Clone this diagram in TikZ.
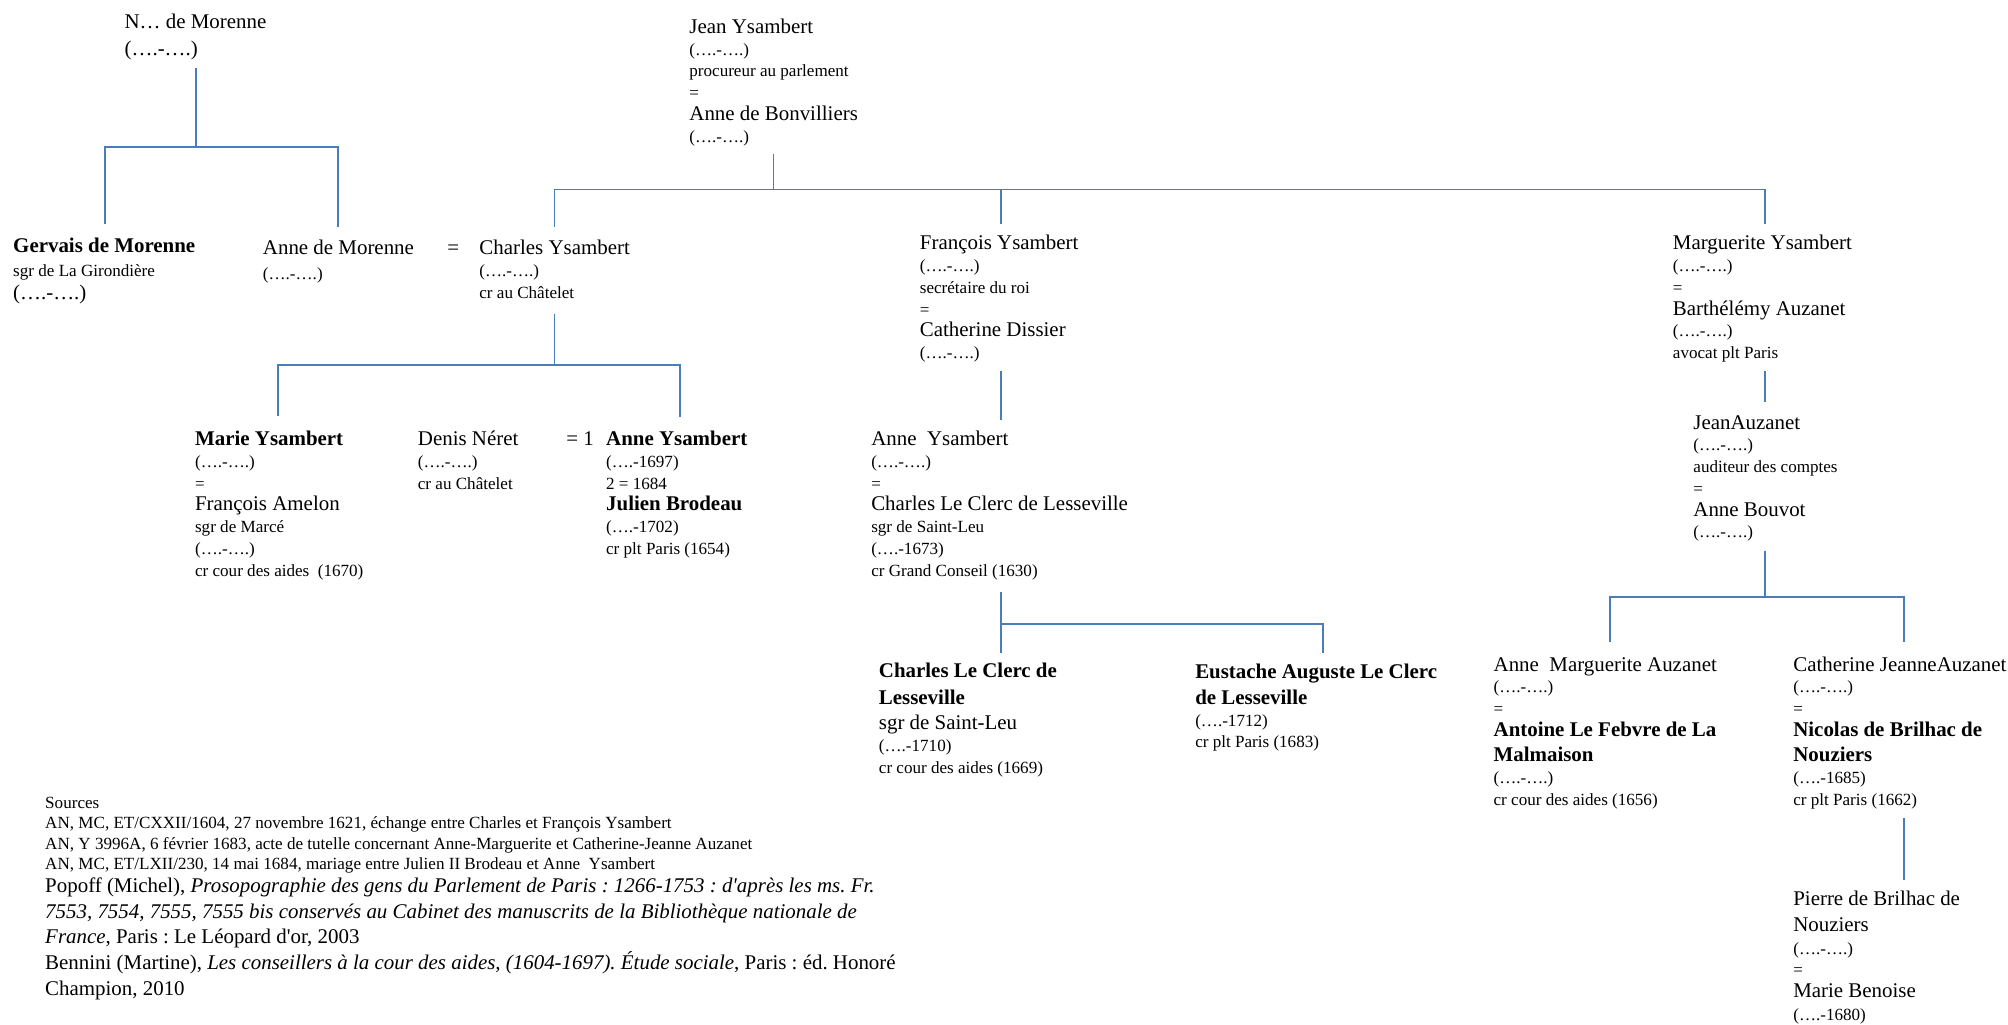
\documentclass[tikz,border=0pt]{standalone}
\usepackage{fontspec}
\setmainfont{Liberation Serif}
\frenchspacing
\newcommand\Lf{\fontsize{9.8pt}{10.2pt}\selectfont}
\newcommand\Sf{\fontsize{8.0pt}{10.2pt}\selectfont}
\newcommand\Bf{\Lf\bfseries}
\newcommand\psty{\Sf\lineskiplimit=-100pt\lineskip=0pt}
\newcommand\dd{(….-….)}
\definecolor{tree}{RGB}{74,126,187}
\begin{document}
\begin{tikzpicture}[x=0.6pt,y=-0.6pt,
  person/.style={anchor=base west,inner sep=0pt,align=left,font=\psty},
  conn/.style={draw=tree,line width=0.9pt}]
\useasboundingbox[fill=white] (0,0) rectangle (1568,800);

% ---------- persons (anchored at the baseline of their last line) ----------
\node[person] (morenne) at (97,43) {\Lf N… de Morenne\\[2.4pt]\Lf \dd};
\node[person] (jean) at (538,111) {\Lf Jean Ysambert\\ \dd\\ procureur au parlement\\ =\\ \Lf Anne de Bonvilliers\\ \dd};

\node[person] (gervais) at (10,234) {\Bf Gervais de Morenne\\[1.2pt] sgr de La Girondière\\[0.6pt] \Lf \dd};
\node[person] (annem) at (205,218) {\Lf Anne de Morenne\\[1.2pt] \dd};
\node[person] (eqa) at (349,199) {\Lf =};
\node[person] (charles) at (374,233) {\Lf Charles Ysambert\\ \dd\\ cr au Châtelet};
\node[person] (francois) at (718,280) {\Lf François Ysambert\\ \dd\\ secrétaire du roi\\ =\\ \Lf Catherine Dissier\\ \dd};
\node[person] (marguerite) at (1306,280) {\Lf Marguerite Ysambert\\ \dd\\ =\\ \Lf Barthélémy Auzanet\\ \dd\\ avocat plt Paris};
\node[person] (jeanauz) at (1322,420) {\Lf JeanAuzanet\\ \dd\\ auditeur des comptes\\ =\\ \Lf Anne Bouvot\\ \dd};

\node[person] (marie) at (152,450) {\Bf Marie Ysambert\\ \dd\\ =\\ \Lf François Amelon\\ sgr de Marcé\\ \dd\\ cr cour des aides\ \ (1670)};
\node[person] (denis) at (326,382) {\Lf Denis Néret\\ \dd\\ cr au Châtelet};
\node[person] (eqb) at (442,348) {\Lf = 1};
\node[person] (anney) at (473,433) {\Bf Anne Ysambert\\ (….-1697)\\ 2 = 1684\\ \Bf Julien Brodeau\\ (….-1702)\\ cr plt Paris (1654)};
\node[person] (annetwo) at (680,450) {\Lf Anne\ \ Ysambert\\ \dd\\ =\\ \Lf Charles Le Clerc de Lesseville\\ sgr de Saint-Leu\\ (….-1673)\\ cr Grand Conseil (1630)};

\node[person] (charlesll) at (686,604) {\Bf Charles Le Clerc de\\[2.4pt] \Bf Lesseville\\[1.8pt] \Lf sgr de Saint-Leu\\ (….-1710)\\ cr cour des aides (1669)};
\node[person] (eustache) at (933,584) {\Bf Eustache Auguste Le Clerc\\[1.8pt] \Bf de Lesseville\\ (….-1712)\\ cr plt Paris (1683)};
\node[person] (annemarg) at (1166,629) {\Lf Anne\ \ Marguerite Auzanet\\ \dd\\ =\\ \Bf Antoine Le Febvre de La\\[1.8pt] \Bf Malmaison\\ \dd\\ cr cour des aides (1656)};
\node[person] (catherine) at (1400,629) {\Lf Catherine JeanneAuzanet\\ \dd\\ =\\ \Bf Nicolas de Brilhac de\\[1.8pt] \Bf Nouziers\\ (….-1685)\\ cr plt Paris (1662)};
\node[person] (pierre) at (1400,797) {\Lf Pierre de Brilhac de\\[1.8pt] \Lf Nouziers\\[0.6pt] \dd\\ =\\ \Lf Marie Benoise\\[0.6pt] (….-1680)};

% ---------- sources ----------
\node[person] (sources) at (35,777) {Sources\\[-0.6pt]
AN, MC, ET/CXXII/1604, 27 novembre 1621, échange entre Charles et François Ysambert\\[-0.6pt]
AN, Y 3996A, 6 février 1683, acte de tutelle concernant Anne-Marguerite et Catherine-Jeanne Auzanet\\[-0.6pt]
AN, MC, ET/LXII/230, 14 mai 1684, mariage entre Julien II Brodeau et Anne\ \ Ysambert\\[0.6pt]
\Lf Popoff (Michel), \textit{Prosopographie des gens du Parlement de Paris : 1266-1753 : d\textquotesingle après les ms. Fr.}\\[1.8pt]
\Lf\itshape 7553, 7554, 7555, 7555 bis conservés au Cabinet des manuscrits de la Bibliothèque nationale de\\[1.8pt]
\Lf\textit{France}, Paris : Le Léopard d\textquotesingle or, 2003\\[1.8pt]
\Lf Bennini (Martine), \textit{Les conseillers à la cour des aides, (1604-1697). Étude sociale}, Paris : éd. Honoré\\[1.8pt]
\Lf Champion, 2010};

% ---------- connector points ----------
\coordinate (mA) at (153,53);  \coordinate (mJ) at (153,115);
\coordinate (mL) at (82,115);  \coordinate (mLb) at (82,175);
\coordinate (mR) at (264,115); \coordinate (mRb) at (264,177);

\coordinate (jA) at (604,120);  \coordinate (jJ) at (604,148);
\coordinate (jL) at (433,148);  \coordinate (jLb) at (433,177);
\coordinate (jM) at (782,148);  \coordinate (jMb) at (782,175);
\coordinate (jR) at (1378,148); \coordinate (jRb) at (1378,175);

\coordinate (cA) at (433,245); \coordinate (cJ) at (433,285);
\coordinate (cL) at (217,285); \coordinate (cLb) at (217,325);
\coordinate (cR) at (531,285); \coordinate (cRb) at (531,326);

\coordinate (fA) at (782,290); \coordinate (fB) at (782,328);

\coordinate (lA) at (782,462); \coordinate (lJ) at (782,487); \coordinate (lB) at (782,510);
\coordinate (lR) at (1033,487); \coordinate (lRb) at (1033,510);

\coordinate (gA) at (1378,290); \coordinate (gB) at (1378,314);

\coordinate (bA) at (1378,430); \coordinate (bJ) at (1378,466);
\coordinate (bL) at (1257,466); \coordinate (bLb) at (1257,501);
\coordinate (bR) at (1487,466); \coordinate (bRb) at (1487,501);

\coordinate (nA) at (1487,639); \coordinate (nB) at (1487,687);

% ---------- connectors ----------
\draw[conn] (mA) -- (mJ);
\draw[conn] (mLb) -- (mL) -- (mR) -- (mRb);
\draw[conn] (jA) -- (jJ);
\draw[conn] (jLb) -- (jL) -- (jR) -- (jRb);
\draw[conn] (jM) -- (jMb);
\draw[conn] (cA) -- (cJ);
\draw[conn] (cLb) -- (cL) -- (cR) -- (cRb);
\draw[conn] (fA) -- (fB);
\draw[conn] (lA) -- (lB);
\draw[conn] (lJ) -- (lR) -- (lRb);
\draw[conn] (gA) -- (gB);
\draw[conn] (bA) -- (bJ);
\draw[conn] (bLb) -- (bL) -- (bR) -- (bRb);
\draw[conn] (nA) -- (nB);
\end{tikzpicture}
\end{document}
